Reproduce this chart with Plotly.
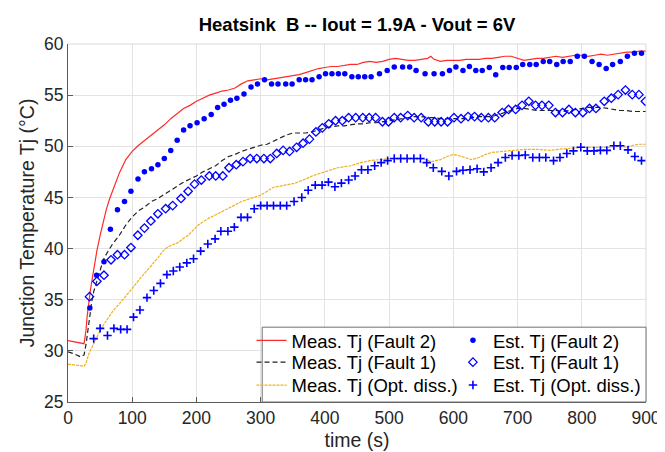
import plotly.graph_objects as go

# ---------------- data ----------------
t_meas_f2 = [0, 10, 20, 25, 28, 30, 35, 40, 45, 50, 55, 60, 65, 70, 80, 90, 100, 110, 120, 130,
             140, 150, 160, 170, 180, 190, 200, 210, 220, 230, 240, 250, 260, 270, 280, 290, 300,
             310, 320, 330, 340, 350, 360, 370, 380, 390, 400, 410, 420, 430, 440, 450, 460, 470,
             480, 490, 500, 510, 520, 530, 540, 550, 560, 565, 570, 580, 590, 600, 610, 620, 630,
             640, 650, 660, 670, 680, 690, 700, 710, 720, 730, 740, 750, 760, 770, 780, 790, 800,
             810, 820, 830, 840, 850, 860, 870, 880, 890, 900]
tj_meas_f2 = [31.0, 30.9, 30.8, 30.7, 32.0, 33.5, 36.0, 38.0, 39.8, 41.3, 42.7, 43.9, 44.9, 45.8, 47.4,
              48.7, 49.5, 50.1, 50.6, 51.1, 51.6, 52.1, 52.7, 53.2, 53.7, 54.0, 54.4, 54.7, 55.0, 55.2,
              55.4, 55.5, 55.7, 56.1, 56.4, 56.5, 56.6, 56.5, 56.6, 56.7, 56.8, 56.9, 57.0, 57.2, 57.4,
              57.6, 57.7, 57.8, 57.8, 57.9, 58.0, 58.0, 58.2, 58.3, 58.2, 58.3, 58.5, 58.6, 58.5, 58.4,
              58.4, 58.5, 58.6, 58.8, 58.5, 58.3, 58.4, 58.4, 58.4, 58.5, 58.5, 58.5, 58.6, 58.6, 58.7,
              58.8, 58.8, 58.6, 58.4, 58.5, 58.6, 58.6, 58.7, 58.8, 58.7, 58.8, 58.9, 58.9, 58.8, 58.9,
              59.0, 58.9, 59.0, 59.1, 59.2, 59.2, 59.3, 59.3]

t_meas_f1 = [0, 10, 20, 25, 28, 31, 34, 37, 40, 45, 50, 55, 60, 70, 80, 90, 100, 110, 120, 130, 140,
             150, 160, 170, 180, 190, 200, 210, 220, 230, 240, 250, 260, 270, 280, 290, 300, 310, 320,
             330, 340, 350, 360, 370, 380, 390, 400, 410, 420, 430, 440, 450, 460, 470, 480, 490, 500,
             510, 520, 530, 540, 550, 560, 570, 580, 590, 600, 610, 620, 630, 640, 650, 660, 670, 680,
             690, 700, 710, 720, 730, 740, 750, 760, 770, 780, 790, 800, 810, 820, 830, 840, 850, 860,
             870, 880, 890, 900]
tj_meas_f1 = [29.9, 29.7, 29.4, 29.6, 30.6, 32.0, 33.6, 34.8, 35.8, 36.9, 38.0, 38.9, 39.5, 40.5, 41.3,
              42.3, 43.1, 43.7, 44.1, 44.6, 44.9, 45.3, 45.7, 46.1, 46.5, 46.8, 47.1, 47.5, 47.8, 48.1,
              48.6, 49.0, 49.2, 49.5, 49.7, 49.9, 50.1, 50.2, 50.5, 50.8, 51.1, 51.3, 51.3, 51.3, 51.4,
              51.6, 51.8, 51.9, 52.0, 52.0, 52.1, 52.2, 52.2, 52.3, 52.3, 52.4, 52.5, 52.6, 52.7, 52.8,
              52.9, 52.9, 52.8, 52.8, 52.7, 52.7, 52.7, 52.7, 52.7, 52.8, 52.9, 52.9, 52.9, 53.1, 53.3,
              53.5, 53.7, 53.7, 53.6, 53.5, 53.5, 53.5, 53.5, 53.4, 53.5, 53.6, 53.7, 53.8, 53.8, 53.8,
              53.7, 53.6, 53.5, 53.5, 53.4, 53.4, 53.4]

t_meas_opt = [0, 10, 20, 25, 28, 30, 33, 40, 50, 56, 60, 70, 80, 90, 96, 100, 110, 120, 130, 140, 147,
              152, 160, 172, 180, 187, 195, 203, 210, 220, 230, 240, 250, 258, 270, 280, 290, 299, 310,
              320, 330, 340, 354, 370, 380, 395, 410, 420, 430, 440, 456, 470, 486, 500, 520, 547, 556,
              567, 580, 590, 600, 608, 618, 628, 640, 650, 660, 680, 700, 711, 730, 750, 763, 780, 800,
              820, 841, 860, 870, 880, 890, 900]
tj_meas_opt = [28.7, 28.6, 28.5, 28.5, 28.8, 29.3, 29.8, 30.7, 32.0, 32.6, 33.0, 33.9, 34.6, 35.3, 35.8,
               36.1, 36.9, 37.6, 38.3, 39.1, 39.7, 40.0, 40.3, 40.6, 41.0, 41.3, 41.8, 42.3, 42.6, 43.0,
               43.3, 43.6, 43.9, 44.2, 44.6, 44.8, 45.0, 45.2, 45.6, 46.0, 46.1, 46.2, 46.4, 46.8, 47.1,
               47.4, 47.7, 47.9, 48.0, 48.1, 48.4, 48.6, 48.7, 48.8, 48.8, 48.8, 48.7, 48.5, 48.7, 49.0,
               49.2, 49.1, 48.9, 48.7, 48.9, 49.2, 49.4, 49.5, 49.6, 49.7, 49.7, 49.6, 49.7, 49.8, 49.9,
               49.9, 49.9, 50.0, 49.9, 50.1, 50.2, 50.2]

t_est_f2 = [34, 44.5, 56, 66, 77, 88, 98, 109, 119, 130, 140, 150, 160, 170, 180, 190, 201, 212, 223,
            233, 243, 253, 263, 274, 285, 295, 306, 317, 327, 339, 349, 360, 370, 380, 391, 401, 411,
            421, 431, 442, 452, 462, 472, 485, 497, 508, 521, 532, 542, 556, 570, 583, 594, 604, 615,
            625, 635, 645, 656, 666, 677, 687, 698, 708, 719, 729, 740, 750, 761, 771, 782, 793, 804,
            816, 827, 838, 848, 860, 871, 882, 893]
tj_est_f2 = [34.2, 37.4, 38.7, 41.9, 43.8, 44.6, 45.6, 46.8, 47.5, 47.8, 48.2, 48.8, 49.6, 50.6, 51.6,
             52.0, 52.3, 52.7, 53.1, 53.8, 54.1, 54.5, 54.7, 55.1, 55.8, 56.1, 56.5, 56.1, 56.1, 56.1,
             56.1, 56.5, 56.5, 56.5, 56.8, 57.1, 57.1, 57.1, 57.1, 56.8, 56.8, 56.8, 56.8, 57.1, 57.4,
             57.75, 57.75, 57.75, 57.4, 57.1, 57.1, 57.1, 57.4, 57.75, 57.4, 57.8, 57.4, 57.4, 57.7,
             57.0, 57.7, 57.7, 57.7, 58.0, 58.0, 58.0, 58.3, 58.3, 58.0, 58.3, 58.3, 58.8, 58.8, 58.3,
             58.0, 57.6, 58.0, 58.3, 58.8, 59.1, 59.1]

t_est_f1 = [33.5, 45, 56, 67, 77, 88, 98, 108.7, 119, 129, 140, 152, 163, 176, 187, 197, 207.6, 220,
            230, 241, 250.7, 262, 272.5, 283.7, 294, 305, 315, 325, 335, 345, 356, 366, 376, 386, 396,
            406, 416.6, 427, 437, 448, 459, 469, 479, 489.6, 499, 508, 518, 529, 539, 550, 561, 571,
            581, 591, 601, 612, 623, 633, 643.6, 654.6, 664.5, 676, 686, 697, 707, 717.5, 728, 738,
            748.6, 759, 770, 780, 790, 801.7, 812, 822, 835, 846, 856.6, 868, 878.6, 889, 899]
tj_est_f1 = [35.3, 36.8, 37.4, 38.9, 39.4, 39.4, 40.1, 41.3, 42.0, 42.7, 43.4, 43.9, 44.2, 44.9, 45.6,
             46.3, 46.7, 47.1, 47.1, 47.1, 47.9, 48.2, 48.5, 48.8, 48.8, 48.8, 48.8, 49.3, 49.6, 49.5,
             49.9, 50.3, 50.7, 51.4, 51.8, 52.2, 52.5, 52.5, 52.8, 52.8, 52.8, 52.8, 52.8, 52.4, 52.4,
             52.8, 52.8, 53.0, 52.8, 52.8, 52.4, 52.4, 52.4, 52.4, 52.8, 52.7, 52.9, 52.9, 52.8, 52.8,
             52.8, 53.3, 53.6, 53.6, 54.0, 54.4, 54.0, 54.0, 54.0, 53.3, 53.3, 53.6, 53.3, 53.3, 53.7,
             53.7, 54.4, 54.7, 55.05, 55.5, 55.05, 55.05, 54.4]

t_est_opt = [40, 50, 61.5, 71.5, 82, 92, 102, 112, 123, 133.5, 144, 154, 164, 174, 185, 195.5, 206.5,
             217.7, 229, 238, 249, 259, 269.4, 279.5, 290, 300, 310, 320, 330.6, 340.5, 352, 364, 374,
             385, 395.6, 405.5, 415.6, 425.7, 437, 447, 457, 467, 477.5, 487.6, 497.7, 508, 518, 528,
             538.6, 548.7, 558.6, 568.8, 582, 593, 605, 615, 626, 637, 647.4, 658.7, 669.7, 681, 691.5,
             702, 712, 723.7, 734, 744, 756, 766, 776.7, 787, 798.5, 808.6, 819, 829, 839, 850, 860,
             872, 882.6, 893]
tj_est_opt = [31.2, 32.2, 31.5, 32.2, 32.1, 32.1, 33.3, 34.0, 35.2, 35.9, 36.6, 37.45, 37.8, 38.2, 38.6,
              39.0, 39.75, 40.45, 40.95, 41.7, 41.7, 42.1, 43.05, 43.05, 43.9, 44.2, 44.2, 44.2, 44.2,
              44.2, 44.6, 45.0, 45.7, 46.2, 46.2, 46.5, 46.05, 46.4, 46.7, 47.1, 47.7, 47.7, 48.1, 48.4,
              48.6, 48.8, 48.8, 48.8, 48.8, 48.8, 48.4, 47.9, 47.55, 47.1, 47.55, 47.65, 47.7, 47.8,
              47.5, 47.9, 48.4, 48.9, 49.1, 49.1, 49.15, 48.9, 48.9, 48.9, 48.6, 48.9, 49.3, 49.55,
              49.9, 49.55, 49.55, 49.6, 49.6, 50.05, 50.05, 49.65, 49.0, 48.6]

x_ticks = [0, 100, 200, 300, 400, 500, 600, 700, 800, 900]
y_ticks = [25, 30, 35, 40, 45, 50, 55, 60]

title_text = "<b>Heatsink  B -- Iout = 1.9A - Vout = 6V</b>"
x_label = "time (s)"
y_label = "Junction Temperature Tj (°C)"

# ---------------- figure ----------------
FONT = "Liberation Sans, Arial, Helvetica, sans-serif"
TXT = "#262626"
BLUE = "#0000ff"

fig = go.Figure()
fig.add_trace(go.Scatter(x=t_meas_f2, y=tj_meas_f2, mode="lines", name="Meas. Tj (Fault 2)",
                         line=dict(color="#ff2a2a", width=1.2), legend="legend"))
fig.add_trace(go.Scatter(x=t_meas_f1, y=tj_meas_f1, mode="lines", name="Meas. Tj (Fault 1)",
                         line=dict(color="#222222", width=1.2, dash="5px,3px"), legend="legend2"))
fig.add_trace(go.Scatter(x=t_meas_opt, y=tj_meas_opt, mode="lines", name="Meas. Tj (Opt. diss.)",
                         line=dict(color="#EDB120", width=1.2, dash="3px,1px"), legend="legend3"))
fig.add_trace(go.Scatter(x=t_est_f2, y=tj_est_f2, mode="markers", name="Est. Tj (Fault 2)",
                         marker=dict(symbol="circle", size=5.5, color=BLUE), legend="legend4"))
fig.add_trace(go.Scatter(x=t_est_f1, y=tj_est_f1, mode="markers", name="Est. Tj (Fault 1)",
                         marker=dict(symbol="diamond-open", size=6.5, color=BLUE,
                                     line=dict(color=BLUE, width=1.3)), legend="legend5"))
fig.add_trace(go.Scatter(x=t_est_opt, y=tj_est_opt, mode="markers", name="Est. Tj (Opt. diss.)",
                         marker=dict(symbol="cross-thin", size=6, color=BLUE,
                                     line=dict(color=BLUE, width=1.6)), legend="legend6"))

# light top / right frame (MATLAB look)
fig.add_shape(type="line", xref="paper", yref="paper", x0=0, x1=1, y0=1, y1=1,
              line=dict(color="#d9d9d9", width=1), layer="above")
fig.add_shape(type="line", xref="paper", yref="paper", x0=1, x1=1, y0=0, y1=1,
              line=dict(color="#d9d9d9", width=1), layer="above")
# legend box
fig.add_shape(type="rect", xref="paper", yref="paper", x0=0.336, x1=1.0, y0=0.0, y1=0.209,
              fillcolor="white", line=dict(color="#707070", width=1), layer="above")

axis_common = dict(
    showgrid=True, gridcolor="#e3e3e3", gridwidth=1,
    showline=True, linecolor="#5a5a5a", linewidth=1.2,
    ticks="inside", ticklen=5, tickcolor="#5a5a5a", tickwidth=1,
    tickfont=dict(family=FONT, size=17.5, color=TXT),
    zeroline=False, mirror=False,
)

LEG_FONT = dict(family=FONT, size=18.5, color="#000000")
col_x = [0.3175, 0.666]
row_y = [0.171, 0.110, 0.046]


def leg(cx, ry):
    return dict(x=cx, y=ry, xanchor="left", yanchor="middle", bgcolor="rgba(0,0,0,0)",
                borderwidth=0, font=LEG_FONT, tracegroupgap=0)


fig.update_layout(
    width=665, height=452,
    margin=dict(l=60, r=16, t=36, b=53),
    paper_bgcolor="white", plot_bgcolor="white",
    font=dict(family=FONT, color=TXT),
    title=dict(text=title_text, x=0.5, xref="paper", xanchor="center",
               y=1 - 17 / 452, yanchor="middle", font=dict(family=FONT, size=18.5, color="#000000")),
    xaxis=dict(range=[0, 900], tickvals=x_ticks, **axis_common,
               title=dict(text=x_label, font=dict(family=FONT, size=19.5, color=TXT), standoff=6)),
    yaxis=dict(range=[25, 60], tickvals=y_ticks, **axis_common,
               title=dict(text=y_label, font=dict(family=FONT, size=19.5, color=TXT), standoff=4)),
    legend=leg(col_x[0], row_y[0]),
    legend2=leg(col_x[0], row_y[1]),
    legend3=leg(col_x[0], row_y[2]),
    legend4=leg(col_x[1], row_y[0]),
    legend5=leg(col_x[1], row_y[1]),
    legend6=leg(col_x[1], row_y[2]),
    showlegend=True,
)

fig.write_html("out.html")
